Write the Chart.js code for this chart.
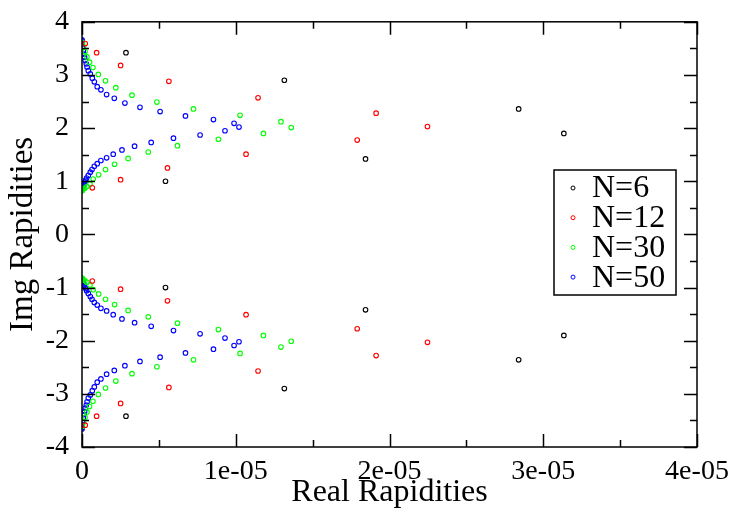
<!DOCTYPE html>
<html>
<head>
<meta charset="utf-8">
<script src="https://cdn.jsdelivr.net/npm/chart.js@4.4.1/dist/chart.umd.min.js"></script>
<style>
  html, body { margin: 0; padding: 0; background: #fff; }
  #wrap { width: 733px; height: 512px; }
</style>
</head>
<body>
<div id="wrap"><canvas id="grafico" width="733" height="512"></canvas></div>
<script>
// datos (mitad superior y mitad inferior)
const n6X = [2.86e-6, 5.43e-6, 1.316e-5, 1.844e-5, 2.84e-5, 3.134e-5];
const n6Y = [3.42, 1.00, 2.90, 1.42, 2.36, 1.90];
const n6YLow = [-3.42, -1.00, -2.90, -1.42, -2.36, -1.90];

const n12X = [2.1e-7, 9.5e-7, 2.51e-6, 5.65e-6, 1.145e-5, 1.913e-5, 2.247e-5, 1.79e-5, 1.067e-5, 5.56e-6, 2.51e-6, 6.7e-7];
const n12Y = [3.59, 3.42, 3.18, 2.88, 2.57, 2.28, 2.03, 1.775, 1.51, 1.25, 1.03, 0.877];
const n12YLow = [-3.59, -3.42, -3.18, -2.88, -2.57, -2.28, -2.03, -1.775, -1.51, -1.25, -1.03, -0.877];

const n30X = [0.3e-7, 1.0e-7, 2.0e-7, 3.2e-7, 4.9e-7, 7.1e-7, 1.06e-6, 1.53e-6, 2.2e-6, 3.25e-6, 4.87e-6, 7.25e-6, 1.028e-5, 1.294e-5, 1.361e-5,
              1.18e-5, 8.87e-6, 6.21e-6, 4.31e-6, 3.0e-6, 2.12e-6, 1.53e-6, 1.08e-6, 7.3e-7, 5.2e-7, 3.2e-7, 1.8e-7, 0.8e-7, 0.2e-7, 0];
const n30Y = [3.61, 3.53, 3.44, 3.34, 3.24, 3.14, 3.01, 2.89, 2.76, 2.62, 2.49, 2.36, 2.24, 2.12, 2.01,
              1.90, 1.79, 1.67, 1.55, 1.43, 1.32, 1.22, 1.12, 1.04, 0.95, 0.90, 0.87, 0.85, 0.83, 0.82];
const n30YLow = [-3.61, -3.53, -3.44, -3.34, -3.24, -3.14, -3.01, -2.89, -2.76, -2.62, -2.49, -2.36, -2.24, -2.12, -2.01,
                 -1.90, -1.79, -1.67, -1.55, -1.43, -1.32, -1.22, -1.12, -1.04, -0.95, -0.90, -0.87, -0.85, -0.83, -0.82];

const n50X = [0, 0.05e-7, 0.1e-7, 0.2e-7, 0.4e-7, 0.85e-7, 1.3e-7, 1.7e-7, 2.1e-7, 2.8e-7, 3.3e-7, 4.1e-7, 5.4e-7, 6.7e-7, 8.0e-7, 9.9e-7,
              1.23e-6, 1.6e-6, 2.1e-6, 2.79e-6, 3.77e-6, 5.08e-6, 6.73e-6, 8.55e-6, 9.89e-6, 1.021e-5,
              9.3e-6, 7.68e-6, 5.95e-6, 4.5e-6, 3.42e-6, 2.6e-6, 2.03e-6, 1.6e-6, 1.23e-6, 9.9e-7, 8.0e-7, 6.5e-7, 5.4e-7, 4.1e-7,
              3.0e-7, 2.4e-7, 1.9e-7, 1.4e-7, 1.0e-7, 0.6e-7, 0.3e-7, 0.1e-7, 0.02e-7, 0];
const n50Y = [3.66, 3.64, 3.61, 3.58, 3.52, 3.45, 3.39, 3.33, 3.27, 3.21, 3.15, 3.08, 3.02, 2.94, 2.87, 2.78,
              2.72, 2.63, 2.56, 2.47, 2.39, 2.31, 2.23, 2.16, 2.09, 2.02,
              1.95, 1.87, 1.81, 1.73, 1.66, 1.59, 1.51, 1.44, 1.39, 1.33, 1.28, 1.22, 1.17, 1.11,
              1.06, 1.02, 0.99, 0.96, 0.93, 0.90, 0.88, 0.86, 0.84, 0.83];
const n50YLow = [-3.66, -3.64, -3.61, -3.58, -3.52, -3.45, -3.39, -3.33, -3.27, -3.21, -3.15, -3.08, -3.02, -2.94, -2.87, -2.78,
                 -2.72, -2.63, -2.56, -2.47, -2.39, -2.31, -2.23, -2.16, -2.09, -2.02,
                 -1.95, -1.87, -1.81, -1.73, -1.66, -1.59, -1.51, -1.44, -1.39, -1.33, -1.28, -1.22, -1.17, -1.11,
                 -1.06, -1.02, -0.99, -0.96, -0.93, -0.90, -0.88, -0.86, -0.84, -0.83];

const etiquetas = ['N=6', 'N=12', 'N=30', 'N=50'];
const xTickLabels = ['0', '1e-05', '2e-05', '3e-05', '4e-05'];
const yTickLabels = ['-4', '-3', '-2', '-1', '0', '1', '2', '3', '4'];

const colores = ['#000000', '#ff0000', '#00ff00', '#0000ff'];
const fuente = 'Liberation Serif, Times New Roman, serif';

function puntos(xs, ys, ysLow) {
    const arriba = xs.map((x, i) => ({ x: x, y: ys[i] }));
    const abajo = xs.map((x, i) => ({ x: x, y: ysLow[i] }));
    return arriba.concat(abajo);
}

const series = [
    puntos(n6X, n6Y, n6YLow),
    puntos(n12X, n12Y, n12YLow),
    puntos(n30X, n30Y, n30YLow),
    puntos(n50X, n50Y, n50YLow)
];

// marco y marcas hacia adentro, como xmgrace
const marcoPlugin = {
    id: 'marco',
    afterDraw(chart) {
        const { ctx, chartArea: a, scales } = chart;
        ctx.save();
        ctx.strokeStyle = '#000';
        ctx.lineWidth = 1.5;
        ctx.strokeRect(a.left, a.top, a.right - a.left, a.bottom - a.top);
        ctx.beginPath();
        for (let i = 0; i <= 8; i++) {
            const v = i * 5e-6;
            const px = Math.round(scales.x.getPixelForValue(v)) + 0.5;
            const len = i % 2 === 0 ? 13 : 7;
            ctx.moveTo(px, a.bottom); ctx.lineTo(px, a.bottom - len);
            ctx.moveTo(px, a.top); ctx.lineTo(px, a.top + len);
        }
        for (let i = 0; i <= 16; i++) {
            const v = -4 + i * 0.5;
            const py = Math.round(scales.y.getPixelForValue(v)) + 0.5;
            const len = i % 2 === 0 ? 13 : 7;
            ctx.moveTo(a.left, py); ctx.lineTo(a.left + len, py);
            ctx.moveTo(a.right, py); ctx.lineTo(a.right - len, py);
        }
        ctx.stroke();

        // leyenda
        const lx = 554, ly = 170, lw = 122, lh = 125;
        ctx.fillStyle = '#fff';
        ctx.fillRect(lx, ly, lw, lh);
        ctx.strokeRect(lx, ly, lw, lh);
        ctx.font = '32px ' + fuente;
        ctx.textBaseline = 'middle';
        ctx.textAlign = 'left';
        chart.data.datasets.forEach((ds, i) => {
            const yy = ly + 18 + i * 29.7;
            ctx.beginPath();
            ctx.lineWidth = 1;
            ctx.strokeStyle = ds.borderColor;
            ctx.arc(lx + 19, yy, 2, 0, Math.PI * 2);
            ctx.stroke();
            ctx.fillStyle = '#000';
            ctx.fillText(ds.label, lx + 38, yy + 1);
        });
        ctx.restore();
    }
};

const ctx = document.getElementById('grafico').getContext('2d');
const grafico = new Chart(ctx, {
    type: 'scatter',
    data: {
        datasets: series.map((d, i) => ({
            label: etiquetas[i],
            data: d,
            borderColor: colores[i],
            backgroundColor: 'rgba(0,0,0,0)',
            pointRadius: 2.3,
            pointBorderWidth: 1.1,
            showLine: false
        }))
    },
    options: {
        responsive: false,
        animation: false,
        layout: { padding: { top: 16, right: 36, left: 0, bottom: 0 } },
        plugins: { legend: { display: false }, tooltip: { enabled: false } },
        scales: {
            x: {
                type: 'linear', min: 0, max: 4e-5,
                afterFit: s => { s.height = 65; },
                afterBuildTicks: s => { s.ticks = xTickLabels.map((t, i) => ({ value: i * 1e-5 })); },
                grid: { display: false },
                border: { display: false },
                ticks: {
                    padding: 0,
                    maxRotation: 0,
                    color: '#000',
                    font: { family: fuente, size: 28 },
                    callback: (v, i) => xTickLabels[i]
                },
                title: {
                    display: true, text: 'Real Rapidities', color: '#000',
                    font: { family: fuente, size: 32 }, padding: { top: 0, bottom: 0 }
                }
            },
            y: {
                type: 'linear', min: -4, max: 4,
                afterFit: s => { s.width = 82; },
                afterBuildTicks: s => { s.ticks = yTickLabels.map(t => ({ value: Number(t) })); },
                grid: { display: false },
                border: { display: false },
                ticks: {
                    padding: 5,
                    color: '#000',
                    font: { family: fuente, size: 28 },
                    callback: (v, i) => yTickLabels[i]
                },
                title: {
                    display: true, text: 'Img Rapidities', color: '#000',
                    font: { family: fuente, size: 33 }, padding: { top: 4, bottom: 0 }
                }
            }
        }
    },
    plugins: [marcoPlugin]
});
</script>
</body>
</html>
